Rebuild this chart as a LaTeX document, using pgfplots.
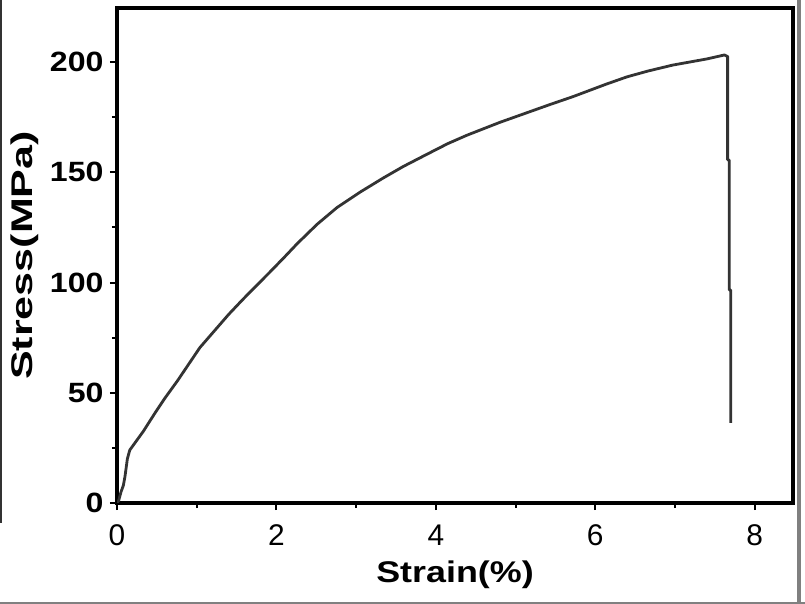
\documentclass[border=0pt]{standalone}
\usepackage{pgfplots}
\pgfplotsset{compat=1.18}
\usepackage{fontspec}
\setmainfont{Liberation Sans}
\newfontfamily\labfont[FakeStretch=1.2]{Liberation Sans}
\newfontfamily\ylabfont[FakeStretch=1.44]{Liberation Sans}
\newfontfamily\tickfont[FakeStretch=1.15]{Liberation Sans}
\definecolor{curve}{HTML}{333333}
\begin{document}
\begin{tikzpicture}
\fill[white] (0bp,0bp) rectangle (805bp,604bp);
\fill[gray] (797bp,0bp) rectangle (801bp,604bp);
\fill[gray] (0bp,0bp) rectangle (805bp,2bp);
\fill[black!80] (0bp,81bp) rectangle (2bp,604bp);
\begin{axis}[
  at={(117bp,101bp)}, anchor=south west,
  scale only axis, width=676bp, height=495bp,
  xmin=0, xmax=8.48, ymin=0, ymax=224.5,
  axis line style={line width=3.5bp},
  every tick/.style={line width=2bp, black},
  tick align=outside,
  major tick length=7bp, minor tick length=5bp,
  xtick={0,2,4,6,8}, minor xtick={1,3,5,7},
  ytick={0,50,100,150,200}, minor ytick={25,75,125,175},
  xtick pos=bottom, ytick pos=left,
  /pgf/number format/assume math mode=true,
  x tick label style={font=\fontsize{30}{30}\selectfont, yshift=-11bp},
  y tick label style={font=\tickfont\bfseries\fontsize{28}{28}\selectfont, xshift=-3bp},
  xlabel={Strain(\%)}, ylabel={Stress(MPa)},
  xlabel style={font=\labfont\bfseries\fontsize{30}{30}\selectfont, at={(axis description cs:0.5,-0.145)}, anchor=center},
  ylabel style={font=\ylabfont\bfseries\fontsize{30}{30}\selectfont, at={(axis description cs:-0.136,0.5)}, anchor=center},
]
\addplot[curve, line width=2.8bp, line join=round] table {
x y
0 0
0.02 1
0.05 5
0.08 8
0.10 12
0.13 20
0.16 24
0.20 26
0.33 32.5
0.48 41
0.60 47.5
0.76 55.5
0.90 63
1.04 70.5
1.22 78
1.40 85.5
1.57 92
1.67 95.7
1.92 104.8
2.10 111.5
2.26 117.6
2.51 126.4
2.76 134.0
3.05 141.0
3.34 147.4
3.59 152.6
3.89 158.2
4.15 163.0
4.39 166.8
4.80 172.6
5.22 178.0
5.43 180.7
5.72 184.3
6.14 190.0
6.40 193.3
6.66 195.9
6.97 198.6
7.40 201.4
7.62 203.2
7.66 202.5
7.66 155.6
7.68 155.6
7.68 96.6
7.70 96.6
7.70 36.3
};
\end{axis}
\end{tikzpicture}
\end{document}
